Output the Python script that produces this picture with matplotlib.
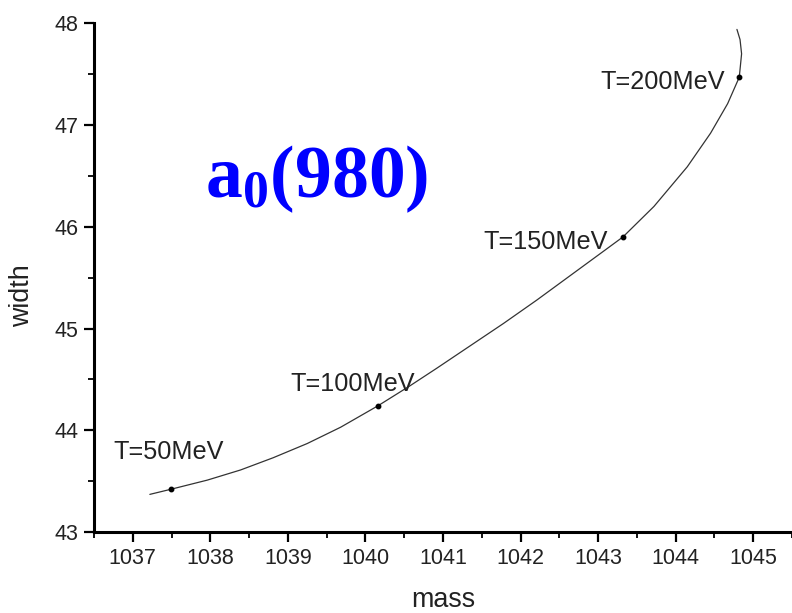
import matplotlib
matplotlib.use("Agg")
import matplotlib.pyplot as plt
from matplotlib.ticker import MultipleLocator

# Mass / width trajectory of the a0(980) as temperature rises
curve_mass = [1037.22, 1037.49, 1037.96, 1038.39, 1038.81, 1039.25, 1039.68,
              1040.16, 1040.58, 1040.92, 1041.35, 1041.78, 1042.21, 1042.64,
              1043.07, 1043.32, 1043.72, 1044.15, 1044.45, 1044.67, 1044.82,
              1044.85, 1044.83, 1044.79]
curve_width = [43.37, 43.42, 43.51, 43.61, 43.73, 43.87, 44.03,
               44.24, 44.44, 44.61, 44.83, 45.05, 45.28, 45.52,
               45.76, 45.90, 46.20, 46.59, 46.92, 47.21, 47.47,
               47.70, 47.84, 47.94]

# Marked temperatures
temp_labels = ["T=50MeV", "T=100MeV", "T=150MeV", "T=200MeV"]
temp_mass = [1037.49, 1040.16, 1043.32, 1044.82]
temp_width = [43.42, 44.24, 45.90, 47.47]
label_x = [1036.75, 1039.03, 1041.52, 1043.03]
label_y = [43.79, 44.45, 45.85, 47.42]

x_ticks = [1037, 1038, 1039, 1040, 1041, 1042, 1043, 1044, 1045]
y_ticks = [43, 44, 45, 46, 47, 48]

plt.rcParams['mathtext.fontset'] = 'custom'
plt.rcParams['mathtext.rm'] = 'Liberation Serif:bold'
plt.rcParams['mathtext.bf'] = 'Liberation Serif:bold'
plt.rcParams['mathtext.it'] = 'Liberation Serif:bold'

sans = 'Liberation Sans'
ink = '#222222'

fig = plt.figure(figsize=(7.92, 6.13), dpi=100)
ax = fig.add_axes([0.1187, 0.1321, 0.8813, 0.8299])

ax.plot(curve_mass, curve_width, color='#333333', lw=0.9, solid_capstyle='round',
        solid_joinstyle='round')
ax.plot(temp_mass, temp_width, 'o', color='black', ms=3.2)

for txt, lx, ly in zip(temp_labels, label_x, label_y):
    ax.text(lx, ly, txt, ha='left', va='center', fontsize=18.2,
            family=sans, color=ink)

ax.text(1037.93, 46.29, r"$\mathbf{a_0(980)}$", color='#0000FF',
        fontsize=53, ha='left', va='baseline')

ax.set_xlim(1036.5, 1045.5)
ax.set_ylim(43, 48)
ax.set_xticks(x_ticks)
ax.set_yticks(y_ticks)
ax.xaxis.set_minor_locator(MultipleLocator(0.5))
ax.yaxis.set_minor_locator(MultipleLocator(0.5))

for side in ('top', 'right'):
    ax.spines[side].set_visible(False)
for side in ('left', 'bottom'):
    ax.spines[side].set_linewidth(2.2)
    ax.spines[side].set_color('black')

ax.tick_params(which='major', direction='out', length=7.5, width=1.6,
               color='black', labelsize=15.5, labelcolor=ink, pad=4)
ax.tick_params(which='minor', direction='out', length=4.5, width=1.3,
               color='black')
for lab in ax.get_xticklabels() + ax.get_yticklabels():
    lab.set_family(sans)

ax.set_xlabel('mass', fontsize=19.4, family=sans, color=ink, labelpad=13)
ax.set_ylabel('width', fontsize=19.4, family=sans, color=ink)
ax.yaxis.set_label_coords(-0.084, 0.464)

fig.savefig('out.png', dpi=100)
